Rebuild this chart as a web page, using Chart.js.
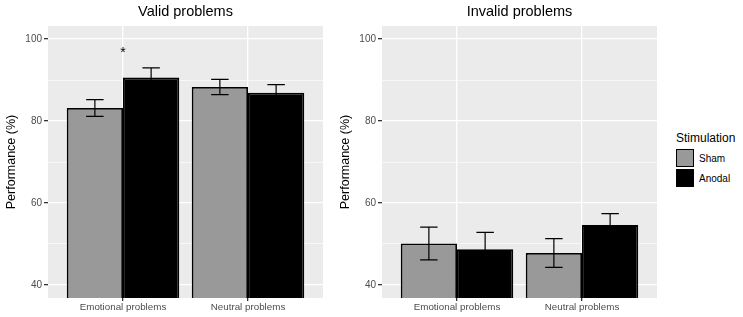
<!DOCTYPE html>
<html>
<head>
<meta charset="utf-8">
<script src="https://cdn.jsdelivr.net/npm/chart.js@4/dist/chart.umd.min.js"></script>
<style>
  html,body{margin:0;padding:0;background:#fff;}
  body{width:743px;height:317px;position:relative;overflow:hidden;font-family:"Liberation Sans",Arial,sans-serif;}
  .pane{position:absolute;top:0;width:330px;height:317px;}
  #legend{position:absolute;left:676px;top:130px;color:#000;}
  #legend .ttl{font-size:12px;line-height:16px;margin-bottom:2px;}
  #legend .row{display:flex;align-items:center;height:20px;}
  #legend .key{width:16px;height:16px;border:1.5px solid #000;margin-right:5px;}
  #legend .lab{font-size:10px;}
</style>
</head>
<body>
<div class="pane" style="left:0"><canvas id="c1" width="330" height="317"></canvas></div>
<div class="pane" style="left:334px"><canvas id="c2" width="330" height="317"></canvas></div>
<div id="legend">
  <div class="ttl">Stimulation</div>
  <div class="row"><div class="key" style="background:#999999"></div><div class="lab">Sham</div></div>
  <div class="row"><div class="key" style="background:#000000"></div><div class="lab">Anodal</div></div>
</div>
<script>
// ---- data ----
const categories = ["Emotional problems", "Neutral problems"];
const seriesNames = ["Sham", "Anodal"];
const validSham = [83.2, 88.3];
const validShamSE = [2.05, 1.85];
const validAnodal = [90.6, 86.9];
const validAnodalSE = [2.4, 2.0];
const invalidSham = [50.1, 47.8];
const invalidShamSE = [4.0, 3.5];
const invalidAnodal = [48.7, 54.6];
const invalidAnodalSE = [4.1, 2.8];
const yTicks = [40, 50, 60, 70, 80, 90, 100];
const yLabeledTicks = [40, 60, 80, 100];
const validSignificance = [{ category: 0, value: 97.4, label: "*" }];
const invalidSignificance = [];

Chart.defaults.font.family = '"Liberation Sans", Arial, sans-serif';

const bgPlugin = {
  id: 'panelBg',
  beforeDraw(chart) {
    const a = chart.chartArea, ctx = chart.ctx;
    ctx.save();
    ctx.fillStyle = '#EBEBEB';
    ctx.fillRect(a.left, a.top, a.right - a.left, a.bottom - a.top);
    ctx.restore();
  }
};

const errPlugin = {
  id: 'errBars',
  afterDatasetsDraw(chart, args, opts) {
    const ctx = chart.ctx, a = chart.chartArea, y = chart.scales.y;
    ctx.save();
    ctx.beginPath();
    ctx.rect(a.left, a.top, a.right - a.left, a.bottom - a.top);
    ctx.clip();
    ctx.strokeStyle = '#000000';
    ctx.lineWidth = 1.2;
    chart.data.datasets.forEach((ds, di) => {
      const meta = chart.getDatasetMeta(di);
      meta.data.forEach((bar, i) => {
        const v = ds.data[i].y, se = ds.se[i];
        const x = bar.x, hw = bar.width * 0.155;
        const yt = y.getPixelForValue(v + se), yb = y.getPixelForValue(v - se);
        ctx.beginPath();
        ctx.moveTo(x, yt); ctx.lineTo(x, yb);
        ctx.moveTo(x - hw, yt); ctx.lineTo(x + hw, yt);
        ctx.moveTo(x - hw, yb); ctx.lineTo(x + hw, yb);
        ctx.stroke();
      });
    });
    ctx.restore();
    (opts.marks || []).forEach(m => {
      const xs = chart.scales.x;
      ctx.save();
      ctx.fillStyle = '#000';
      ctx.font = '14px "Liberation Sans", Arial, sans-serif';
      ctx.textAlign = 'center';
      ctx.textBaseline = 'middle';
      ctx.fillText(m.label, xs.getPixelForValue(m.category + 1), y.getPixelForValue(m.value) + 3);
      ctx.restore();
    });
  }
};

function makeChart(id, title, sham, shamSE, anodal, anodalSE, marks) {
  const toPts = arr => arr.map((v, i) => ({ x: i + 1, y: v }));
  return new Chart(document.getElementById(id), {
    type: 'bar',
    data: {
      datasets: [
        { label: seriesNames[0], data: toPts(sham), se: shamSE, backgroundColor: '#999999', borderColor: '#000', borderWidth: 1.8, borderSkipped: false },
        { label: seriesNames[1], data: toPts(anodal), se: anodalSE, backgroundColor: '#000000', borderColor: '#000', borderWidth: 1.8, borderSkipped: false }
      ]
    },
    options: {
      responsive: false,
      animation: false,
      layout: { padding: { left: 0, right: 7, top: 0, bottom: 0 } },
      datasets: { bar: { categoryPercentage: 0.9, barPercentage: 1.0, grouped: true } },
      plugins: {
        legend: { display: false },
        tooltip: { enabled: false },
        title: {
          display: true, text: title, color: '#000', fullSize: false,
          font: { size: 14.5, weight: 'normal', lineHeight: 1.2 },
          padding: { top: 3, bottom: 5.6 }
        },
        errBars: { marks: marks }
      },
      scales: {
        x: {
          type: 'linear', min: 0.4, max: 2.6, offset: false,
          afterBuildTicks(s) { s.ticks = categories.map((c, i) => ({ value: i + 1 })); },
          afterFit(s) { s.height = 19; },
          ticks: {
            callback: (v) => categories[v - 1] || '',
            color: '#4D4D4D', font: { size: 9.8 }, padding: 0, maxRotation: 0, autoSkip: false
          },
          grid: { offset: false, color: '#FFFFFF', lineWidth: 1.3, tickColor: '#333333', tickLength: 3, drawOnChartArea: true },
          border: { display: false }
        },
        y: {
          min: 36.8, max: 103.2,
          afterBuildTicks(s) { s.ticks = yTicks.map(v => ({ value: v })); },
          afterFit(s) { s.width = 48; },
          ticks: {
            callback: (v) => yLabeledTicks.includes(v) ? String(v) : '',
            color: '#4D4D4D', font: { size: 10 }, padding: 2, autoSkip: false
          },
          grid: {
            color: '#FFFFFF',
            lineWidth: c => yLabeledTicks.includes(c.tick.value) ? 1.3 : 0.6,
            tickColor: c => yLabeledTicks.includes(c.tick.value) ? '#333333' : 'rgba(0,0,0,0)',
            tickLength: 4
          },
          border: { display: false },
          title: { display: true, text: 'Performance (%)', color: '#000', font: { size: 12.5 }, padding: { top: 4, bottom: 2 } }
        }
      }
    },
    plugins: [bgPlugin, errPlugin]
  });
}

makeChart('c1', 'Valid problems', validSham, validShamSE, validAnodal, validAnodalSE, validSignificance);
makeChart('c2', 'Invalid problems', invalidSham, invalidShamSE, invalidAnodal, invalidAnodalSE, invalidSignificance);
</script>
</body>
</html>
